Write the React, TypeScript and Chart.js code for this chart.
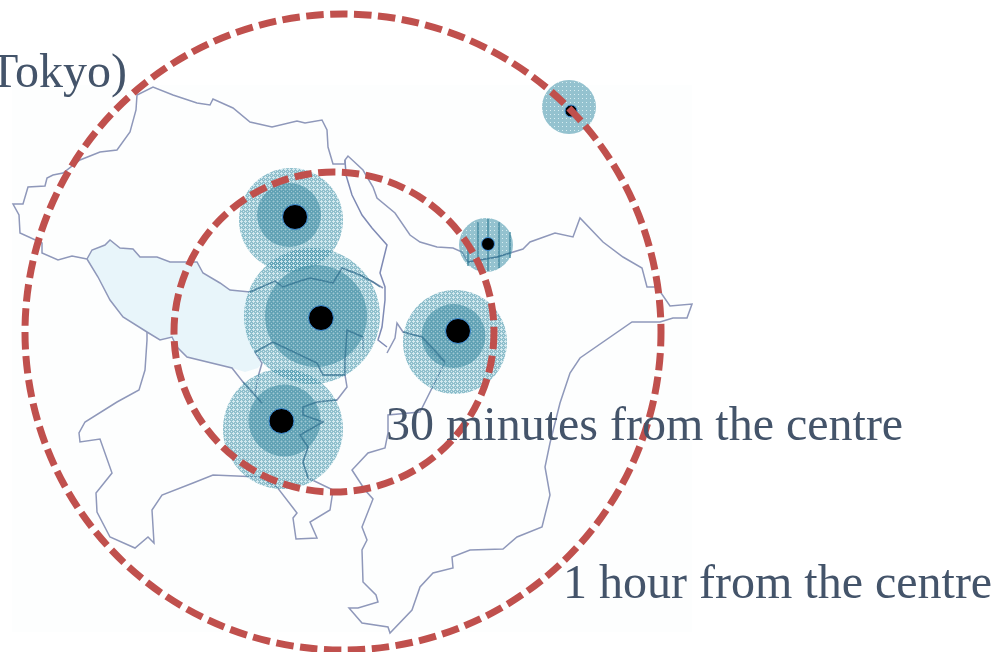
import React, { useEffect, useRef } from "react";
import { Chart, registerables } from "chart.js";

Chart.register(...registerables);

type P = [number, number];

const northBorder: P[] = [[87,259],[72,256],[58,260],[42,253],[42,243],[20,233],[19,215],[13,204],[23,204],[28,187],[45,186],[47,178],[53,175],[63,173],[80,160],[100,152],[117,150],[130,132],[136,110],[137,95],[153,87],[173,95],[197,103],[210,105],[213,99],[233,108],[250,122],[272,127],[297,121],[305,123],[322,120],[327,130],[328,147],[333,164],[345,164],[345,160],[348,156],[363,170],[373,187],[377,198],[395,213],[410,235],[420,242],[437,247],[453,248],[462,252],[468,262],[497,257],[510,253],[523,249],[530,242],[555,233],[573,237],[580,218],[603,242],[623,257],[642,268],[647,287],[657,287],[670,306],[692,304],[687,318],[673,318],[660,322],[632,322],[580,358],[570,373],[560,403],[550,443],[545,467],[550,495],[542,527],[517,537],[503,549],[470,550],[452,557],[453,568],[433,573],[420,587],[412,610],[390,633],[388,627],[362,623],[349,608],[358,608],[378,602],[376,595],[363,582],[362,550],[367,540],[362,527],[373,499],[365,490],[352,470],[368,453],[385,448],[388,433],[388,415],[420,412],[445,362],[437,353],[422,337],[403,332],[397,323],[395,338],[387,353]];
const saitamaEast: P[] = [[345,160],[346,175],[352,195],[362,215],[372,228],[387,245],[380,273],[385,287],[385,300],[382,327],[378,340],[387,347]];
const tokyoArea: P[] = [[87,259],[92,250],[105,245],[110,240],[120,248],[133,249],[140,257],[157,257],[170,262],[197,262],[203,273],[220,283],[230,290],[250,292],[255,352],[262,363],[258,368],[245,372],[232,368],[187,357],[177,347],[172,337],[160,340],[147,332],[123,317],[110,300],[98,277]];
const tokyoNorth: P[] = [[87,259],[92,250],[105,245],[110,240],[120,248],[133,249],[140,257],[157,257],[170,262],[197,262],[203,273],[220,283],[230,290],[250,292],[275,281],[283,287],[297,282],[310,278],[333,283],[342,268],[360,275],[373,282],[383,288]];
const tokyoSouth: P[] = [[87,259],[98,277],[110,300],[123,317],[147,332],[160,340],[172,337],[177,347],[187,357],[232,368],[243,382],[262,403]];
const kanagawa: P[] = [[147,332],[147,340],[145,370],[139,390],[117,402],[85,422],[79,433],[80,442],[100,439],[112,473],[96,493],[97,512],[110,537],[135,548],[148,537],[154,543],[152,510],[162,495],[193,483],[213,475],[260,477],[277,487],[297,513],[293,518],[296,539],[317,538],[310,522],[330,510],[332,497],[333,490],[308,478],[303,462],[308,447],[300,435],[323,422],[303,415],[303,407],[317,402],[337,400],[347,387],[345,375],[323,375],[317,363],[273,342],[255,352],[262,363],[258,377],[255,395]];
const bayLine: P[] = [[345,375],[345,360],[347,330],[363,337],[363,350]];
const chibaInner: P[] = [[422,337],[432,352],[445,362]];
const gridLines: (P | null)[] = [[468,250],[468,266],null,[478,222],[478,270],null,[488,219],[488,271],null,[499,222],[499,268],null,[510,232],[510,258]];
const cityBorders: (P | null)[] = [[250,292],[275,281],[283,287],[297,282],[310,278],[333,283],[342,268],[360,275],[373,282],[380,287],null,[255,352],[273,342],[317,363],[323,375],[345,375],[345,360],[347,330],[363,337],null,[262,403],[243,382],null,[308,478],[303,462],[308,447],[300,435],[323,422],[303,415],[303,407],[317,402],[337,400],null,[403,332],[422,337],[437,353],[445,362],null,[468,262],[497,257],[510,253]];

const outerRingSpots = [{ x: 343, y: 332, r: 318 }];
const innerRingSpots = [{ x: 334, y: 332, r: 160 }];
const haloSpots = [{ x: 291, y: 220, r: 52 }, { x: 312, y: 316, r: 68 }, { x: 283, y: 429, r: 60 }, { x: 455, y: 342, r: 52 }];
const coreSpots = [{ x: 289, y: 215, r: 32 }, { x: 316, y: 316, r: 51 }, { x: 284.5, y: 420.5, r: 36 }, { x: 453.5, y: 336, r: 32 }];
const smallSpots = [{ x: 569, y: 107, r: 27 }, { x: 486, y: 245, r: 27 }];
const cityDots = [{ x: 295, y: 217, r: 12.5 }, { x: 321, y: 318, r: 12.5 }, { x: 281.5, y: 421, r: 12.5 }, { x: 458, y: 331, r: 12.5 }, { x: 571, y: 111, r: 6 }, { x: 488, y: 244, r: 6.5 }];

const labelTexts = ["Tokyo)", "30 minutes from the centre", "1 hour from the centre"];

const toXY = (pts: (P | null)[]) => pts.map((p) => (p ? { x: p[0], y: p[1] } : { x: NaN, y: NaN }));

function tile(base: string, dot: string, cells: P[], size = 4): CanvasPattern {
  const c = document.createElement("canvas");
  c.width = size;
  c.height = size;
  const g = c.getContext("2d")!;
  g.fillStyle = base;
  g.fillRect(0, 0, size, size);
  cells.forEach(([x, y]) => {
    g.clearRect(x, y, 1, 1);
    g.fillStyle = dot;
    g.fillRect(x, y, 1, 1);
  });
  return g.createPattern(c, "repeat")!;
}

const ringDash = {
  id: "ringDash",
  beforeDatasetDraw(chart: any, args: any) {
    const ds = chart.data.datasets[args.index];
    if (ds.ringDash) {
      chart.ctx.setLineDash(ds.ringDash);
      chart.ctx.lineDashOffset = ds.ringOffset || 0;
    }
  },
  afterDatasetDraw(chart: any) {
    chart.ctx.setLineDash([]);
  },
};

const sheet = {
  id: "sheet",
  beforeDatasetsDraw(chart: any) {
    const { ctx, scales } = chart;
    const x0 = scales.x.getPixelForValue(12);
    const y0 = scales.y.getPixelForValue(85);
    ctx.save();
    ctx.fillStyle = "#fdfefe";
    ctx.fillRect(x0, y0, scales.x.getPixelForValue(692) - x0, scales.y.getPixelForValue(632) - y0);
    ctx.restore();
  },
};

const captions = {
  id: "captions",
  afterDraw(chart: any) {
    const { ctx, scales } = chart;
    ctx.save();
    ctx.font = '48px "Liberation Serif"';
    ctx.fillStyle = "#44546A";
    ctx.textBaseline = "alphabetic";
    ctx.textAlign = "right";
    ctx.fillText(labelTexts[0], scales.x.getPixelForValue(127), scales.y.getPixelForValue(87));
    ctx.textAlign = "left";
    ctx.fillText(labelTexts[1], scales.x.getPixelForValue(386), scales.y.getPixelForValue(440));
    ctx.fillText(labelTexts[2], scales.x.getPixelForValue(563), scales.y.getPixelForValue(598));
    ctx.restore();
  },
};

export default function App() {
  const ref = useRef<HTMLCanvasElement>(null);
  useEffect(() => {
    const haloFill = tile("rgba(70,148,170,0.6)", "rgba(200,228,235,0.8)", [[1, 1], [0, 1], [2, 1], [1, 0], [1, 2], [3, 3]]);
    const coreFill = tile("rgba(62,140,162,0.58)", "rgba(62,140,162,0.38)", [[1, 1], [3, 3]]);
    const smallFill = tile("rgba(72,150,172,0.58)", "rgba(205,232,238,0.8)", [[2, 2]]);
    const mapLine = (data: (P | null)[], color = "#8f98ba", order = 20) => ({
      type: "line",
      data: toXY(data),
      borderColor: color,
      borderWidth: 1.5,
      pointRadius: 0,
      fill: false,
      tension: 0,
      spanGaps: false,
      order,
    });
    const spots = (data: any[], backgroundColor: any, order: number, extra: any = {}) => ({
      type: "bubble",
      data,
      backgroundColor,
      borderWidth: 0,
      borderColor: "transparent",
      order,
      ...extra,
    });
    const chart = new Chart(ref.current!, {
      type: "bubble",
      data: {
        datasets: [
          { ...mapLine(tokyoArea, "rgba(0,0,0,0)", 30), borderWidth: 0, fill: "shape", backgroundColor: "#e8f5fa" },
          mapLine(northBorder),
          mapLine(saitamaEast, "#7f8ab4"),
          mapLine(tokyoNorth),
          mapLine(tokyoSouth),
          mapLine(kanagawa),
          mapLine(bayLine),
          mapLine(chibaInner),
          spots(haloSpots, haloFill, 10),
          spots(coreSpots, coreFill, 9),
          spots(smallSpots, smallFill, 8),
          mapLine(cityBorders, "rgba(48,112,142,0.6)", 7),
          mapLine(gridLines, "rgba(50,125,150,0.8)", 7),
          spots(cityDots, "#000000", 5, { borderWidth: 1, borderColor: "#3f8fd6" }),
          spots(innerRingSpots, "transparent", 2, { borderWidth: 7, borderColor: "#C0504D", ringDash: [17.3, 6.5] }),
          spots(outerRingSpots, "transparent", 1, { borderWidth: 7, borderColor: "#C0504D", ringDash: [17.5, 6.5], ringOffset: 3 }),
        ] as any,
      },
      options: {
        responsive: false,
        animation: false,
        events: [],
        layout: { padding: 0, autoPadding: false },
        plugins: { legend: { display: false }, tooltip: { enabled: false } },
        scales: {
          x: { type: "linear", display: false, min: 0, max: 997 },
          y: { type: "linear", display: false, min: 0, max: 652, reverse: true },
        },
      },
      plugins: [sheet, ringDash, captions],
    } as any);
    return () => chart.destroy();
  }, []);
  return (
    <canvas
      ref={ref}
      width={997}
      height={652}
      style={{ position: "fixed", left: 0, top: 0, width: 997, height: 652, display: "block" }}
    />
  );
}
